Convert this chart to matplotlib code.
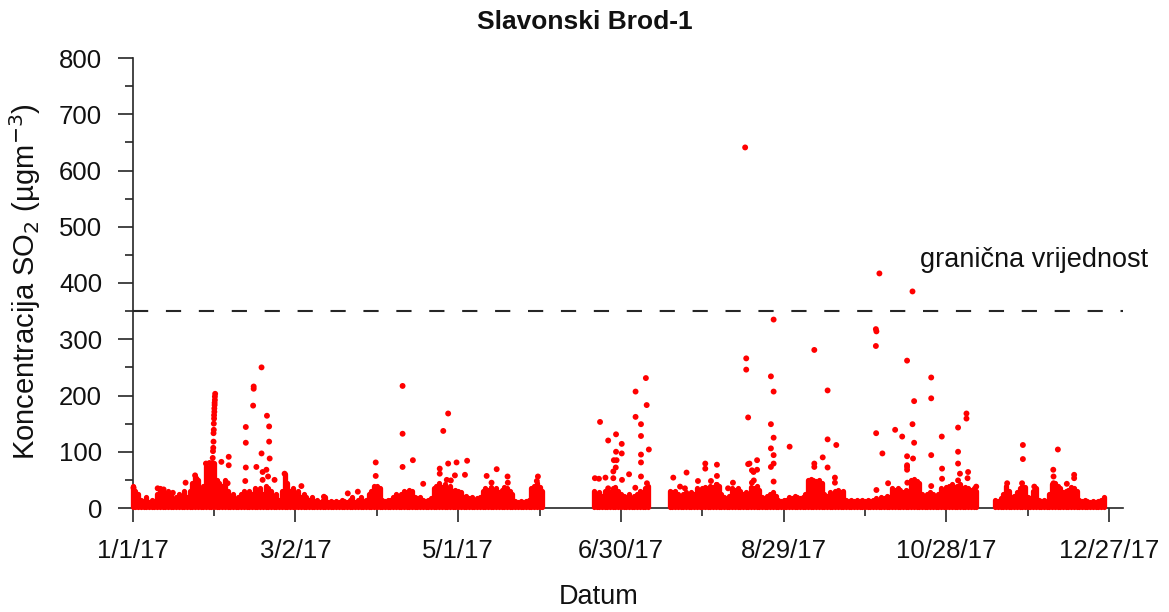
import numpy as np
import pandas as pd
import matplotlib
matplotlib.use('Agg')
import matplotlib.pyplot as plt
from matplotlib.ticker import FixedLocator, MultipleLocator, FuncFormatter
import matplotlib.dates as mdates

plt.rcParams['font.family'] = ['Liberation Sans', 'DejaVu Sans']

year_start = pd.Timestamp('2017-01-01')
year_end = pd.Timestamp('2018-01-01')

# top of the packed hourly cluster, one value per day, per measuring block
# (day offset of first value from 1/1/17)
band_jan_may_start = 0
band_jan_may = [40, 30, 25, 15, 12, 20, 10, 15, 12, 25,
                35, 30, 20, 30, 25, 15, 20, 25, 15, 30,
                20, 30, 45, 55, 50, 30, 40, 75, 70, 75,
                80, 50, 45, 40, 50, 30, 20, 25, 15, 20,
                25, 30, 25, 30, 25, 35, 30, 35, 25, 40,
                35, 30, 20, 25, 15, 30, 60, 45, 30, 35,
                25, 30, 20, 25, 20, 15, 20, 12, 15, 10,
                15, 20, 10, 12, 10, 12, 10, 15, 12, 10,
                15, 20, 10, 15, 20, 12, 15, 25, 30, 40,
                40, 35, 15, 12, 15, 15, 20, 25, 20, 25,
                30, 28, 32, 30, 20, 18, 20, 15, 12, 15,
                18, 35, 40, 45, 38, 42, 35, 40, 30, 32,
                30, 28, 20, 22, 18, 20, 15, 18, 20, 30,
                35, 32, 38, 30, 35, 28, 32, 38, 35, 30,
                25, 12, 10, 12, 10, 12, 15, 35, 40, 44,
                38, 30]
band_jun_jul_start = 170
band_jun_jul = [30, 25, 28, 22, 30, 32, 28, 35, 38, 30,
                25, 22, 20, 25, 18, 22, 25, 30, 28, 35, 40]
band_jul_nov_start = 198
band_jul_nov = [30, 28, 30, 25, 22, 25, 28, 25, 28, 25,
                35, 32, 35, 38, 35, 40, 38, 42, 40, 25,
                20, 18, 22, 35, 32, 35, 30, 25, 28, 25,
                38, 35, 40, 32, 20, 18, 22, 25, 28, 22,
                15, 12, 15, 15, 20, 18, 22, 20, 18, 20,
                25, 50, 52, 50, 48, 50, 45, 25, 22, 28,
                25, 30, 32, 28, 30, 15, 12, 15, 12, 15,
                12, 15, 12, 15, 12, 15, 18, 15, 20, 18,
                22, 20, 35, 32, 35, 30, 28, 32, 30, 50,
                52, 48, 45, 25, 22, 25, 28, 25, 22, 25,
                35, 32, 38, 40, 42, 38, 40, 42, 35, 38,
                35, 32, 35, 30]
band_nov_dec_start = 318
band_nov_dec = [15, 12, 18, 25, 40, 30, 20, 22, 28, 35,
                40, 38, 20, 18, 30, 35, 15, 12, 15, 12,
                25, 42, 45, 40, 35, 28, 30, 32, 38, 35,
                30, 15, 12, 15, 12, 10, 12, 10, 12, 15,
                20]

# single hourly readings standing out of the band (day offset, ug/m3)
spike_day = [0.3, 0.6, 9.2, 11.4, 14.8, 19.5, 23.0, 23.5, 27.0, 27.8,
             28.3, 28.8, 29.0, 29.2, 29.4, 29.5, 29.6, 29.7, 29.8, 29.8,
             29.9, 29.9, 30.0, 30.0, 30.1, 30.1, 30.2, 30.2, 30.3, 30.3,
             30.4, 32.7, 35.4, 35.4, 35.0, 41.7, 41.7, 41.7, 41.5, 44.4,
             44.6, 44.6, 45.6, 47.5, 47.5, 47.9, 47.9, 49.5, 49.3, 49.9,
             50.3, 50.3, 50.5, 52.3, 56.0, 62.2, 70.5, 79.3, 83.0, 89.6,
             89.6, 99.5, 99.5, 99.5, 103.3, 107.1, 113.2, 113.2, 114.5, 115.8,
             116.3, 116.3, 117.3, 118.8, 119.4, 122.5, 123.3, 130.5, 132.3, 134.2,
             138.2, 138.3, 149.0, 149.4,
             170.4, 171.9, 172.3, 174.3, 175.3, 175.3, 177.2, 177.2, 177.4, 178.1,
             178.2, 178.2, 178.4, 180.3, 180.3, 180.4, 183.0, 185.3, 185.4, 185.4,
             187.4, 187.4, 187.4, 187.4, 187.4, 189.2, 189.5, 189.6, 190.3,
             199.3, 201.8, 203.6, 204.2, 208.4, 211.1, 211.1, 213.2, 215.4, 215.4,
             215.4, 219.5, 221.3, 225.8, 226.2, 226.2, 226.9, 226.9, 227.4, 228.3,
             228.3, 228.9, 229.0, 230.2, 230.2, 235.3, 235.3, 235.3, 235.3, 236.3,
             236.3, 236.3, 236.3, 236.3, 236.3, 242.2, 251.3, 251.3, 251.3, 254.4,
             256.2, 256.2, 256.2, 258.9, 258.9, 259.4, 274.0, 274.2, 274.0, 274.1,
             274.2, 275.3, 276.4, 278.5, 281.1, 282.9, 283.7, 285.5, 285.5, 285.5,
             285.5, 285.5, 285.6, 287.5, 287.5, 287.7, 288.1, 288.1, 294.4, 294.4,
             294.4, 294.4, 298.3, 298.4, 298.4, 304.3, 304.3, 304.3, 304.3, 305.0,
             307.4, 307.4, 307.8, 308.0, 311.0,
             322.4, 327.9, 328.2, 328.2, 332.4, 339.4, 339.5, 339.5, 339.5, 341.1,
             344.4, 347.1, 347.1]
spike_val = [36, 30, 35, 33, 27, 45, 58, 52, 79, 68,
             80, 55, 62, 74, 80, 89, 101, 107, 118, 133,
             139, 150, 159, 165, 171, 177, 183, 187, 192, 198,
             203, 82, 91, 76, 44, 144, 116, 72, 48, 182,
             216, 212, 73, 250, 97, 64, 50, 164, 68, 56,
             145, 118, 88, 50, 61, 39, 20, 26, 29, 81,
             57, 217, 132, 73, 85, 43, 70, 61, 137, 50,
             168, 79, 49, 58, 81, 59, 84, 57, 45, 69,
             56, 45, 48, 56,
             53, 52, 153, 54, 120, 35, 65, 53, 85, 72,
             131, 100, 85, 114, 97, 50, 60, 36, 207, 162,
             149, 128, 95, 81, 56, 231, 183, 44, 104,
             54, 38, 35, 63, 48, 79, 70, 48, 77, 57,
             41, 35, 45, 641, 266, 246, 161, 78, 79, 67,
             45, 64, 49, 85, 68, 234, 149, 106, 73, 335,
             207, 125, 94, 79, 47, 109, 281, 79, 73, 90,
             209, 122, 72, 54, 45, 112, 318, 314, 288, 133,
             32, 417, 97, 44, 139, 31, 127, 262, 92, 76,
             73, 68, 45, 385, 149, 88, 190, 116, 232, 195,
             94, 39, 127, 70, 52, 143, 100, 79, 49, 61,
             168, 159, 53, 64, 38,
             44, 44, 112, 87, 38, 68, 56, 44, 33, 104,
             43, 59, 53]

limit_value = 350

red = '#ff0000'
axis_col = '#262626'
text_col = '#111111'

fig = plt.figure(figsize=(11.69, 6.12), dpi=100)
ax = fig.add_axes([132.7 / 1169, 1 - 508 / 612, 990 / 1169, 450 / 612])

blocks = [(band_jan_may_start, band_jan_may), (band_jun_jul_start, band_jun_jul),
          (band_jul_nov_start, band_jul_nov), (band_nov_dec_start, band_nov_dec)]
for start, vals in blocks:
    days = year_start + pd.to_timedelta(np.arange(len(vals)) + start, unit='D')
    ln = ax.vlines(days, 2, vals, color=red, lw=3.8, zorder=3, clip_on=False)
    ln.set_capstyle('round')

spike_x = year_start + pd.to_timedelta(spike_day, unit='D')
ax.scatter(spike_x, spike_val, s=18, color=red, edgecolors='none', zorder=4, clip_on=False)

ax.axhline(limit_value, color=axis_col, lw=1.5, dashes=(7.3, 8.5), zorder=2)
ax.text(year_start + pd.Timedelta(days=290.3), 441, 'granična vrijednost',
        fontsize=19.5, color=text_col, va='center', ha='left')

ax.set_xlim(year_start, year_end)
ax.set_ylim(0, 800)

major = pd.date_range('2017-01-01', periods=7, freq='60D')
minor = pd.date_range('2017-01-31', periods=6, freq='60D')
ax.xaxis.set_major_locator(FixedLocator(mdates.date2num(major)))
ax.xaxis.set_minor_locator(FixedLocator(mdates.date2num(minor)))
ax.xaxis.set_major_formatter(FuncFormatter(
    lambda v, p: (lambda d: f'{d.month}/{d.day}/{d:%y}')(mdates.num2date(v))))
ax.yaxis.set_major_locator(MultipleLocator(100))
ax.yaxis.set_minor_locator(MultipleLocator(50))

for s in ['top', 'right']:
    ax.spines[s].set_visible(False)
for s in ['left', 'bottom']:
    ax.spines[s].set_color(axis_col)
    ax.spines[s].set_linewidth(1.2)

ax.tick_params(axis='x', which='major', length=10, width=1.2, color=axis_col,
               labelsize=18.5, pad=12, labelcolor=text_col)
ax.tick_params(axis='x', which='minor', length=6, width=1.2, color=axis_col)
ax.tick_params(axis='y', which='major', length=11, width=1.2, color=axis_col,
               labelsize=18.5, pad=11, labelcolor=text_col)
ax.tick_params(axis='y', which='minor', length=6, width=1.2, color=axis_col)

fig.text(599 / 1169, 1 - 597 / 612, 'Datum', fontsize=19.5, color=text_col,
         ha='center', va='center')
fig.text(25 / 1169, 1 - 282 / 612, 'Koncentracija SO$_2$ (µgm$^{-3}$)', fontsize=21,
         color=text_col, ha='center', va='center', rotation=90)
fig.text(0.5, 1 - 22 / 612, 'Slavonski Brod-1', fontsize=19, fontweight='bold',
         ha='center', va='center', color=text_col)

fig.savefig('out.png', dpi=100)
